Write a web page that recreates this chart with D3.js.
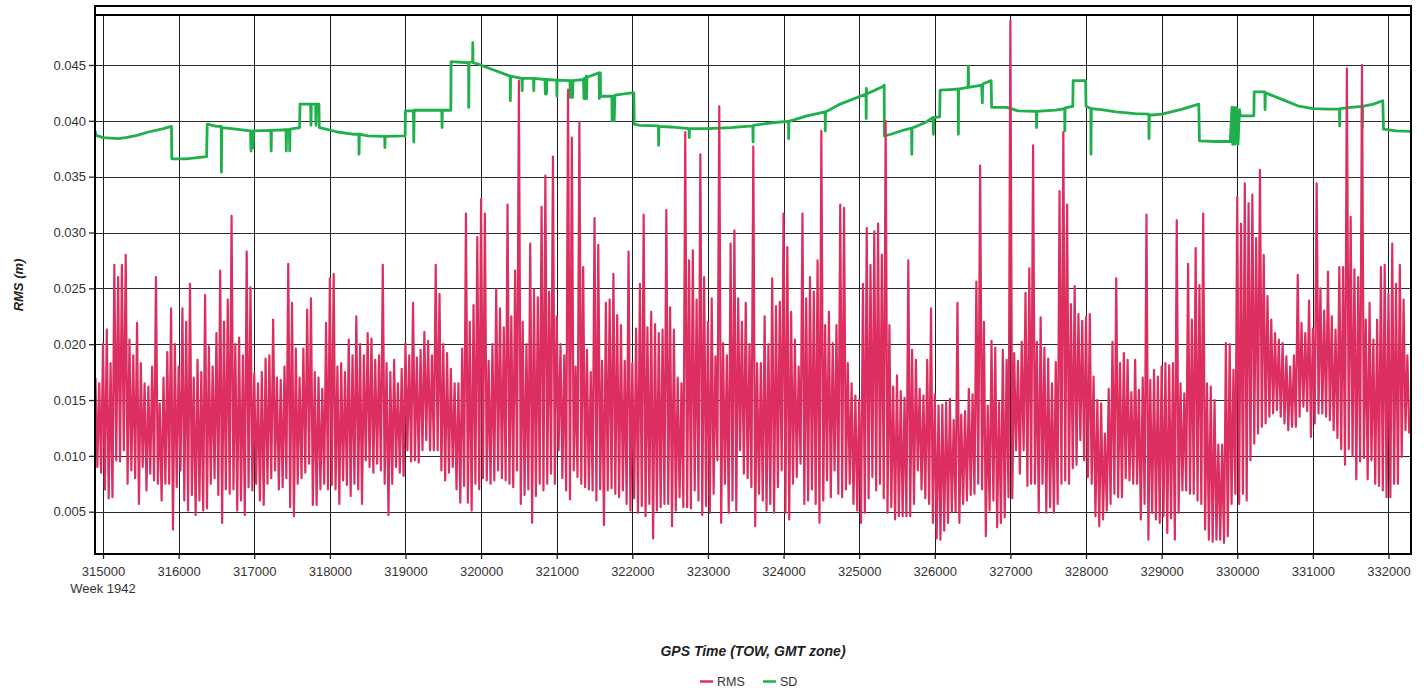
<!DOCTYPE html>
<html><head><meta charset="utf-8">
<script src="https://cdn.jsdelivr.net/npm/d3@7"></script>
<style>
body{margin:0;background:#fff;}
svg{display:block;font-family:"Liberation Sans",Arial,sans-serif;}
</style>
</head><body>
<svg id="chart" width="1424" height="691"></svg>
<script>
// ---- data (RMS and SD, in millimetres) ----
const rmsStart = 314900;   // GPS TOW (s) of the first reading
const rmsStep = 50;        // seconds between successive peak readings
const rmsPeakMm = [
17,16.5,20,21.3,18.3,27.1,26,27.1,28,20.4,19,21.9,18.3,16.5,16.2,18,26,14.7,17,19.3,23.2,20,
18,23.2,22,25.4,17,18.6,17.5,24.4,19.8,18,21,26.6,22,24,31.5,20,20.6,19,28.3,25.1,
17.4,16.5,17.5,18.7,19,22.2,17,16.8,18,27.2,23.7,19.6,17,19.6,23.1,24.1,17.5,17,16,21.9,
25.9,26.3,18,18.3,17.5,20.4,19,22.5,20,19,21,20.5,18.6,19,27.1,18.3,17.5,18.6,16.5,17.8,
20.1,19,23.7,18.8,19.5,21.1,20.3,19,27.1,24.5,20,19.2,17.8,16.5,16.5,19.6,31.7,22,23.5,29.6,
33,31.7,18.5,20,24.9,23.2,21.5,32.5,22.5,26.6,43.6,22,20,29,24.9,
24.2,32.3,35.1,24.7,36.8,22.5,20,19,42.8,38.5,18,39.9,26.9,19.5,17.5,31.3,28.9,18.5,23.7,24,26.3,22.6,21.7,18.5,28.3,
18.3,21.4,25.4,31.6,21.5,22.9,21.8,21,21.3,32,23.3,21.3,17,16.5,39,27.5,28.4,24,37,26,
22,24.1,18.9,41.3,20.1,19,29,30.2,24.1,22,23.7,20,37.7,18.3,18.3,22.5,20,25.9,23.4,23.8,
31.7,28.7,22.9,20.4,18,31.7,24.1,26,24.7,27.5,39.1,21.7,22.9,20.1,21.7,32.5,32.2,18.3,16.5,15.4,
15,25.4,30.4,27.1,30.1,30.8,28,40,21.7,16.2,17.2,15.8,15.2,27.5,19.5,18.6,16,15.4,18.6,23.2,
15.5,14.5,14.6,14.8,15.1,13.2,23.7,13.7,14,16,15.5,25.6,36,22,14.5,20.3,19.7,14.8,19.5,18.6,
49,19.2,18.5,20.2,24.6,26.8,37.8,20.2,22.4,19.7,18.7,16.5,18.4,33.7,39,32.5,23.6,25.2,22.7,22.1,
22.4,22.7,17.1,15,14.7,12,16,20.2,25.9,18.3,19.2,18.6,15.7,18.6,15.9,17,31.6,16.8,17.7,17.1,
18,18.3,18.1,18.3,31.1,16.5,15.6,27.2,22.2,28.6,25.3,31.7,16.5,16.2,15,11,11,20.1,20,17.7,
33.2,30.8,34.4,32.6,33.4,29.5,35.6,28,24.3,22.2,21,20.4,20.1,18.9,18,19,26.2,21.9,21,23.9,
21.4,34.4,25,23,26.5,22.5,21.3,26.9,26.9,44.7,31.4,26.7,26,45,22.2,23.7,20.4,22.2,26.9,27.1,
24.5,29,25.4,27.1,24,19
];
const rmsTroughMm = [
9,8.5,7,6.2,6.3,9.6,9.5,10.5,7.5,8.7,8,5.7,9,6.9,8.4,7.8,7.5,6,7.5,7.5,3.4,7.2,
8.7,6,5.1,6.5,4.7,6,5.1,5.3,7.5,8,6.5,4,7,6.6,7,5.1,6,4.7,7.2,6.9,
7.5,6,5.6,7.5,8,8.7,7,7.2,8,5.4,4.6,7.5,8,8.5,9.3,5.6,5.6,7,7.5,7,
7.4,7,5.7,7.8,7.4,6.4,7.5,7,5.7,9.6,9,8.5,9.3,8.7,7.5,4.7,7.5,9,8.5,8.2,
10.5,9.5,9.6,9.4,10.5,11.4,10.5,10.5,10.5,8.7,7.8,8.5,9,7,5.8,7.3,5.8,5.1,7.5,7,
8,7.8,7.5,7.8,8.7,8,7.8,7.5,7.2,8.7,5.7,6.5,7,4,6.4,
7.5,6.9,7.5,8.4,7.5,10.5,8,6.9,6.1,8.7,8.1,7.5,7.2,7,6.9,6,7,3.8,6.9,7.1,6.6,6.3,6.9,5.7,5.1,
6.2,4.9,5.5,4.6,5.7,2.6,5.1,5.4,5.7,5.7,3.7,5.1,6.3,5.4,5.4,5.3,6.9,6,4.7,5.5,
4.9,6.6,9.6,4,7.5,4.9,6,5.1,10.5,8.4,8,7.2,3.7,6.6,6,5.1,5.7,4.9,7.2,8.7,
4.9,4.3,7.5,8.1,9.3,5.7,6,7,5.7,4,6,7.8,6.3,8.7,6.6,6.3,7,7.5,5.7,5.1,
4,4.9,6.2,8.1,6.9,7.5,6.2,4.9,5.4,4.3,4.6,4.6,4.6,4.6,5.7,8.7,7,6.2,5.7,4,
2.6,2.5,3.3,4,5,5,4,5.7,6,6.5,6.6,7.5,7,2.8,5.1,6,3.6,4,4.5,6.3,
6.2,10.5,8.4,10.5,7.3,7.5,7.5,4.9,7.5,4.9,5.4,4.9,5.7,7.5,7.8,7.5,8.9,9.2,11.4,9.6,
8.1,7.5,4.6,3.7,4.3,5.1,5.7,6.6,6.3,6.3,8,7.8,7.5,7.5,4.3,5.7,2.5,4.9,4.3,4,
4.6,3.1,4.4,2.5,4.9,6.9,6.9,6.6,6.6,6,5.7,3.4,2.5,2.3,2.5,2.5,2.2,2.8,5.7,6.6,
5.7,6.6,6,9.6,11.1,12,12.6,12.9,13.5,13.8,14.1,13.5,12.9,12.3,12.6,12.6,13.5,14.4,14,11.7,
12.9,13.8,13.8,13.5,13.2,12.3,11.6,10.6,9.2,10.6,10,7.9,9.5,9.8,7.9,9.6,7.5,7.3,6.9,6.3,
6.3,7.5,7.5,9.9,12.3,12
];
const sdTime = [
314895,314910,315000,315200,315300,315450,315600,315800,315905,315910,316100,316370,316378,316500,316563,316566,316570,316700,
316950,316958,316962,316985,316990,317220,317224,317228,317420,317424,317428,317465,317469,317473,317600,317605,317745,317750,
317755,317812,317816,317820,317855,317860,317950,318100,318300,318384,318386,318390,318500,318726,318728,318732,318995,319000,
319105,319110,319115,319480,319484,319488,319600,319603,319835,319837,319840,319888,319890,319893,319950,320150,320385,320387,
320390,320540,320543,320546,320694,320697,320700,320845,320850,320855,320865,320870,321000,321003,321006,321175,321180,321185,
321195,321200,321210,321215,321355,321360,321365,321380,321390,321395,321400,321560,321565,321570,321577,321580,321730,321733,
321740,321760,321770,321990,322020,322025,322100,322345,322348,322352,322500,322750,322753,322757,323000,323300,323594,323597,
323600,323880,324066,324068,324071,324310,324550,324552,324555,324750,325090,325093,325096,325100,325320,325331,325333,325420,
325600,325694,325696,325700,325860,325978,325982,325986,326065,326070,326200,326310,326312,326315,326440,326444,326448,326620,
326629,326633,326745,326752,326950,327100,327344,327346,327350,327600,327718,327720,327724,327825,327830,327995,328000,328064,
328066,328070,328200,328400,328650,328831,328833,328837,329000,329250,329491,329500,329700,329908,329930,329940,329955,329970,
329990,330010,330030,330040,330220,330224,330365,330368,330372,330450,330600,330800,331000,331200,331352,331355,331358,331500,
331652,331654,331657,331800,331925,331934,332100,332298
];
const sdMm = [
39.1,38.7,38.5,38.4,38.5,38.7,39.0,39.3,39.5,36.6,36.6,36.8,39.7,39.5,39.5,35.4,39.4,39.3,
39.1,37.3,39.1,37.6,39.1,39.15,37.3,39.15,39.2,37.3,39.2,39.2,37.3,39.25,39.4,41.5,41.5,39.6,
41.5,41.5,39.6,41.5,41.5,39.4,39.25,39.0,38.8,38.8,37.0,38.8,38.65,38.6,37.6,38.6,38.65,40.9,
40.9,38.1,40.95,40.95,39.4,40.95,40.95,45.3,45.2,41.2,45.2,45.3,47.0,45.2,45.1,44.6,44.0,41.8,
44.0,43.8,42.7,43.8,43.8,42.7,43.8,43.7,42.4,43.7,42.4,43.7,43.65,42.2,43.65,43.6,42.1,43.6,
42.1,43.6,42.1,43.6,43.7,42.0,43.8,42.0,44.0,42.0,43.9,44.3,42.0,44.3,44.3,42.2,42.2,40.0,
42.2,40.0,42.3,42.5,42.5,39.7,39.6,39.55,37.8,39.5,39.45,39.3,38.5,39.3,39.3,39.4,39.55,38.1,
39.6,39.85,39.95,38.4,39.95,40.45,40.8,39.1,40.8,41.5,42.4,40.2,42.9,42.4,43.1,43.2,38.65,38.8,
39.2,39.35,37.0,39.35,39.8,40.3,38.8,40.3,40.35,42.75,42.8,42.85,38.8,42.85,43.0,44.9,43.0,43.2,
41.6,43.3,43.6,41.2,41.2,40.9,40.85,39.4,40.85,40.95,41.1,39.1,41.15,41.3,43.6,43.6,41.3,41.1,
37.0,41.1,41.0,40.8,40.65,40.6,38.4,40.5,40.6,41.0,41.5,38.2,38.15,38.15,41.2,37.9,41.2,37.9,
41.2,37.9,41.0,40.45,40.45,42.6,42.6,41.0,42.5,42.3,41.9,41.35,41.1,41.05,41.05,39.55,41.1,41.2,
41.3,39.4,41.3,41.5,41.8,39.25,39.1,39.05
];
const xTicks = [315000,316000,317000,318000,319000,320000,321000,322000,323000,324000,325000,326000,327000,328000,329000,330000,331000,332000];
const yTicks = [0.005,0.010,0.015,0.020,0.025,0.030,0.035,0.040,0.045];
const weekLabel = "Week 1942";
const xTitle = "GPS Time (TOW, GMT zone)";
const yTitle = "RMS (m)";
const seriesNames = ["RMS", "SD"];
const seriesColors = ["#dc2e5f", "#1fb04c"];

// ---- layout ----
const L = 95, R = 1411, T = 15, B = 554, FRAME_T = 6;
const svg = d3.select("#chart");
const x = d3.scaleLinear().domain([314894, 332298]).range([L, R]);
const y = d3.scaleLinear().domain([0.001212, 0.049477]).range([B, T]);

// grid
const grid = svg.append("g").attr("shape-rendering", "crispEdges");
grid.selectAll("line.v").data(xTicks).join("line")
  .attr("x1", d => Math.round(x(d)) + 0.5).attr("x2", d => Math.round(x(d)) + 0.5)
  .attr("y1", T).attr("y2", B).attr("stroke", "#1e1e1e").attr("stroke-width", 1.3);
grid.selectAll("line.h").data(yTicks).join("line")
  .attr("x1", L).attr("x2", R)
  .attr("y1", d => Math.round(y(d)) + 0.5).attr("y2", d => Math.round(y(d)) + 0.5)
  .attr("stroke", "#2a2a2a").attr("stroke-width", 1.3);

// clip
svg.append("clipPath").attr("id", "plotclip").append("rect")
  .attr("x", L).attr("y", T).attr("width", R - L).attr("height", B - T);

// SD series
const sdData = sdTime.map((t, i) => ({t, v: sdMm[i] / 1000}));
const line = d3.line().x(d => x(d.t)).y(d => y(d.v));
svg.append("path").datum(sdData).attr("clip-path", "url(#plotclip)")
  .attr("d", line).attr("fill", "none").attr("stroke", seriesColors[1])
  .attr("stroke-width", 2.8).attr("stroke-linejoin", "round");

// RMS series: each reading gives a peak then a trough
const rmsData = [];
rmsPeakMm.forEach((p, i) => {
  rmsData.push({t: rmsStart + rmsStep * i, v: p / 1000});
  rmsData.push({t: rmsStart + rmsStep * i + rmsStep / 2, v: rmsTroughMm[i] / 1000});
});
svg.append("path").datum(rmsData).attr("clip-path", "url(#plotclip)")
  .attr("d", line).attr("fill", "none").attr("stroke", seriesColors[0])
  .attr("stroke-width", 2.2).attr("stroke-linejoin", "round");

// frame
const frame = svg.append("g").attr("shape-rendering", "crispEdges");
frame.append("rect").attr("x", L).attr("y", FRAME_T).attr("width", R - L).attr("height", B - FRAME_T)
  .attr("fill", "none").attr("stroke", "#000").attr("stroke-width", 2.4);
frame.append("line").attr("x1", L).attr("x2", R).attr("y1", T).attr("y2", T)
  .attr("stroke", "#000").attr("stroke-width", 2);

// axes
const yAxis = svg.append("g").attr("transform", `translate(${L},0)`)
  .call(d3.axisLeft(y).tickValues(yTicks).tickFormat(d3.format(".3f")).tickSize(6).tickPadding(3));
const xAxis = svg.append("g").attr("transform", `translate(0,${B})`)
  .call(d3.axisBottom(x).tickValues(xTicks).tickFormat(d3.format("d")).tickSize(5).tickPadding(8));
[yAxis, xAxis].forEach(a => {
  a.select(".domain").remove();
  a.selectAll(".tick line").attr("stroke", "#222").attr("stroke-width", 1.3);
  a.selectAll("text").attr("font-size", 13).attr("fill", "#333")
    .attr("font-family", "'Liberation Sans', Arial, sans-serif");
});
svg.append("text").attr("x", x(xTicks[0])).attr("y", 593).attr("text-anchor", "middle")
  .attr("font-size", 13).attr("fill", "#333").text(weekLabel);

// titles
svg.append("text").attr("x", 753).attr("y", 656).attr("text-anchor", "middle")
  .attr("font-size", 14).attr("font-weight", "bold").attr("font-style", "italic").attr("fill", "#222")
  .text(xTitle);
svg.append("text").attr("transform", "translate(22.5,285) rotate(-90)").attr("text-anchor", "middle")
  .attr("font-size", 13).attr("font-weight", "bold").attr("font-style", "italic").attr("fill", "#222")
  .text(yTitle);

// legend
const legendX = [700, 763];
const lg = svg.append("g");
seriesNames.forEach((name, i) => {
  lg.append("line").attr("x1", legendX[i]).attr("x2", legendX[i] + 13).attr("y1", 681.5).attr("y2", 681.5)
    .attr("stroke", seriesColors[i]).attr("stroke-width", 2.5);
  lg.append("text").attr("x", legendX[i] + 17).attr("y", 686).attr("font-size", 12.5).attr("fill", "#333").text(name);
});
</script>
</body></html>
